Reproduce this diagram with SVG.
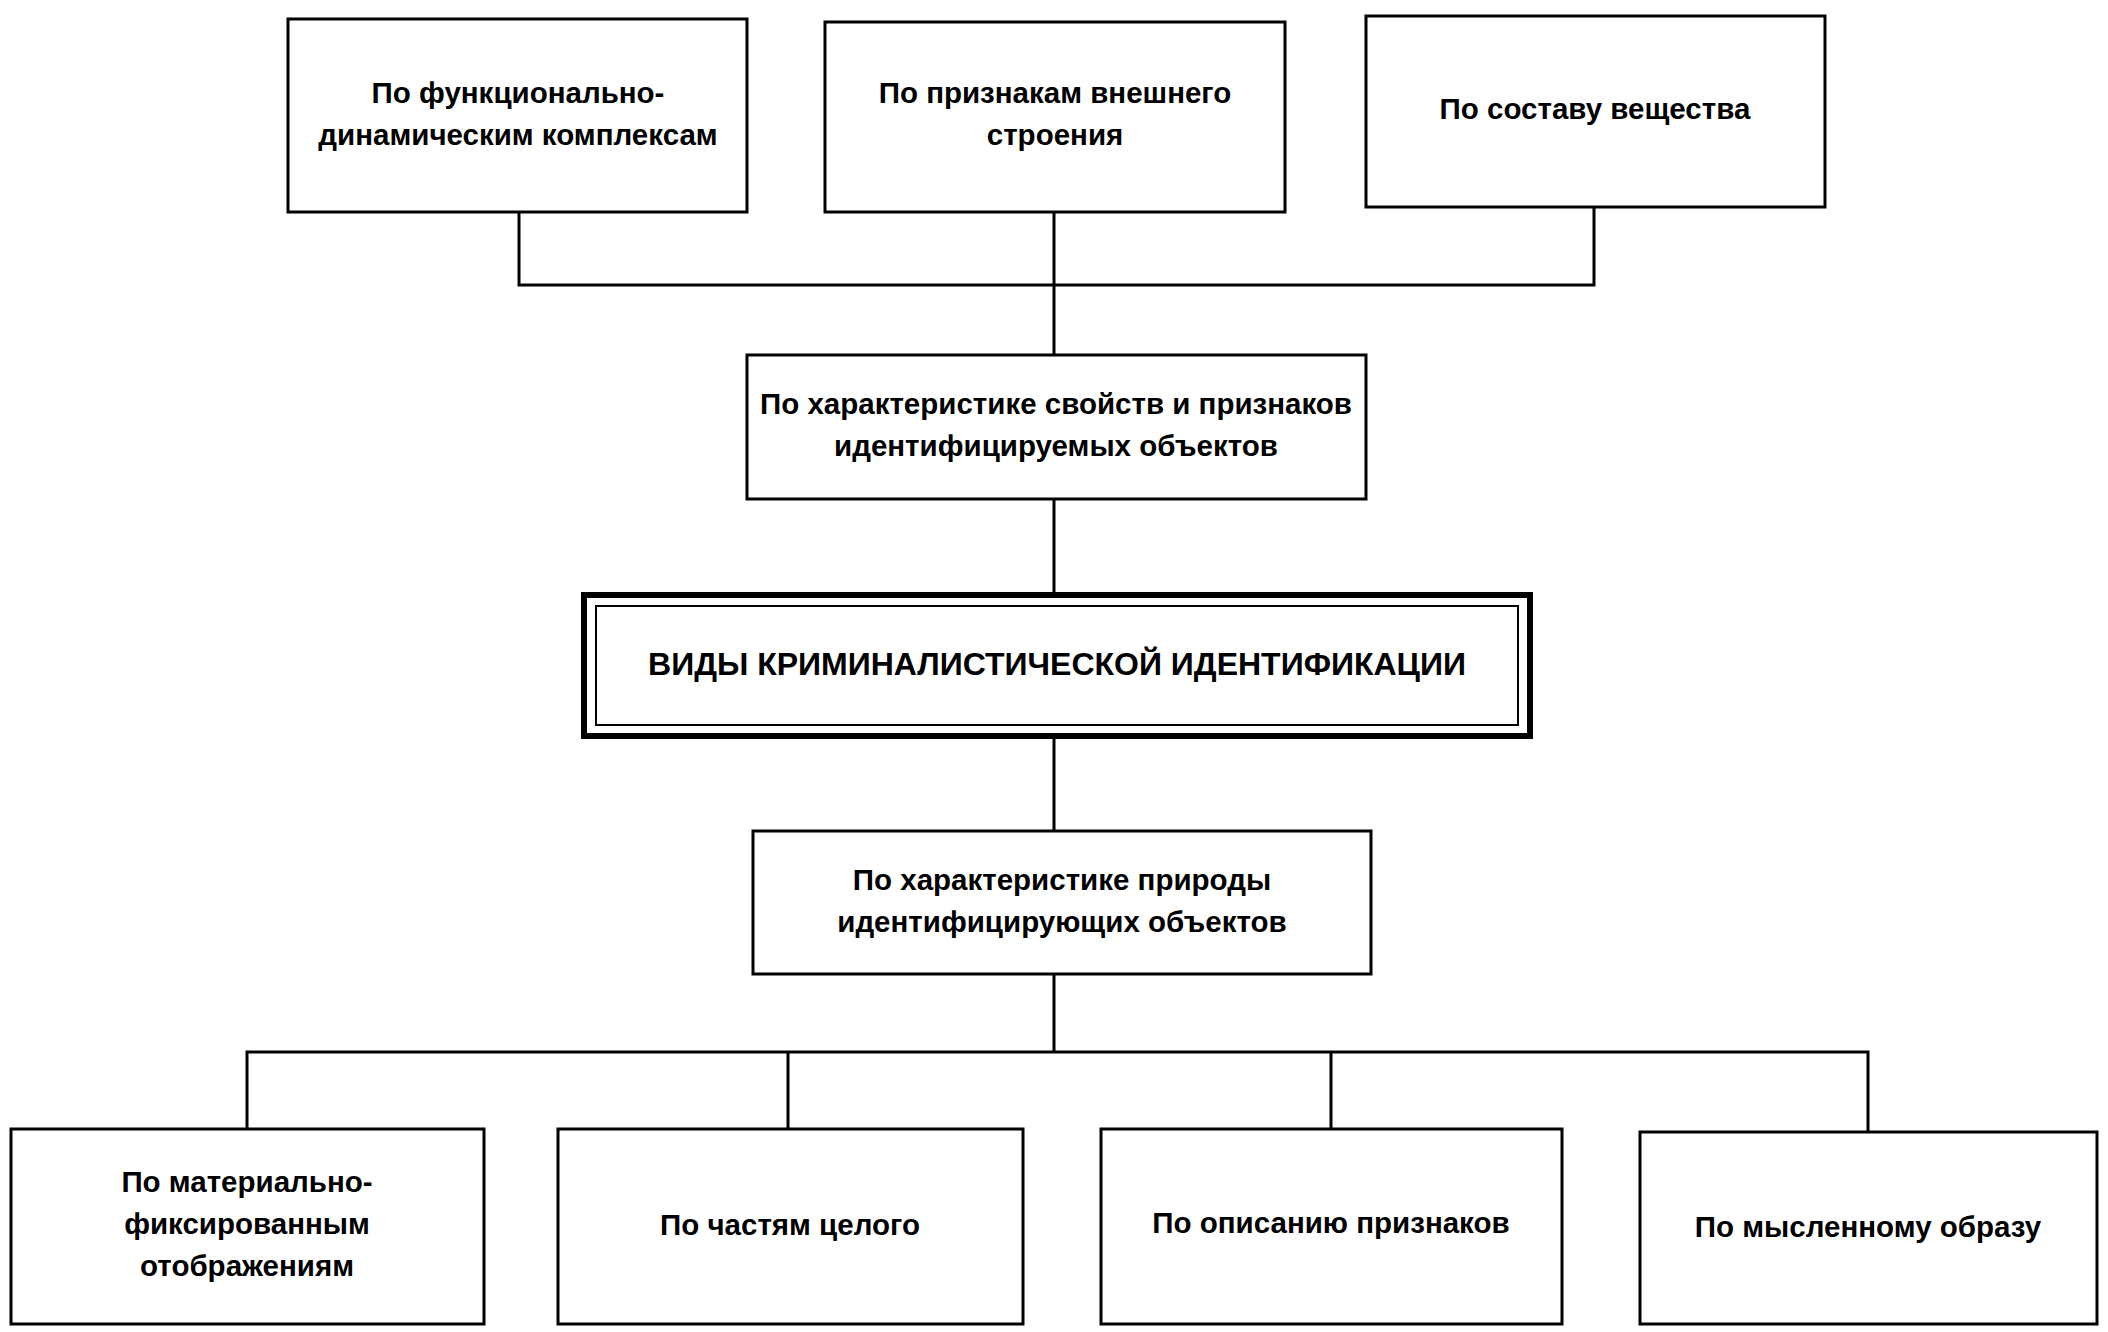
<svg xmlns="http://www.w3.org/2000/svg" width="2108" height="1332" viewBox="0 0 2108 1332">
<style>
.b{fill:#fff;stroke:#000;stroke-width:3}
.t{font-family:"Liberation Sans",Arial,sans-serif;font-weight:bold;font-size:29.5px;text-anchor:middle;fill:#000}
.c{stroke:#000;stroke-width:3;fill:none}
</style>
<rect width="2108" height="1332" fill="#fff"/>
<g id="connectors">
<path class="c" d="M519 212V285H1594V207M1054 212V355M1054 499V593M1054 738V831M1054 974V1052M247 1129V1052H1868V1132M788 1052V1129M1331 1052V1129"/>
</g>
<g id="n1"><rect class="b" x="288" y="19" width="459" height="193"/><text class="t" x="518" y="103">По функционально-</text><text class="t" x="518" y="145">динамическим комплексам</text></g>
<g id="n2"><rect class="b" x="825" y="22" width="460" height="190"/><text class="t" x="1055" y="103">По признакам внешнего</text><text class="t" x="1055" y="145">строения</text></g>
<g id="n3"><rect class="b" x="1366" y="16" width="459" height="191"/><text class="t" x="1595" y="119">По составу вещества</text></g>
<g id="n4"><rect class="b" x="747" y="355" width="619" height="144"/><text class="t" x="1056" y="414">По характеристике свойств и признаков</text><text class="t" x="1056" y="456">идентифицируемых объектов</text></g>
<g id="main"><rect x="584" y="595" width="946" height="141" fill="#fff" stroke="#000" stroke-width="6"/><rect x="596" y="606" width="922" height="119" fill="none" stroke="#000" stroke-width="2"/><text class="t" x="1057" y="675" style="font-size:32px">ВИДЫ КРИМИНАЛИСТИЧЕСКОЙ ИДЕНТИФИКАЦИИ</text></g>
<g id="n5"><rect class="b" x="753" y="831" width="618" height="143"/><text class="t" x="1062" y="890">По характеристике природы</text><text class="t" x="1062" y="932">идентифицирующих объектов</text></g>
<g id="b1"><rect class="b" x="11" y="1129" width="473" height="195"/><text class="t" x="247" y="1192">По материально-</text><text class="t" x="247" y="1234">фиксированным</text><text class="t" x="247" y="1276">отображениям</text></g>
<g id="b2"><rect class="b" x="558" y="1129" width="465" height="195"/><text class="t" x="790" y="1235">По частям целого</text></g>
<g id="b3"><rect class="b" x="1101" y="1129" width="461" height="195"/><text class="t" x="1331" y="1233">По описанию признаков</text></g>
<g id="b4"><rect class="b" x="1640" y="1132" width="457" height="192"/><text class="t" x="1868" y="1237">По мысленному образу</text></g>
</svg>
